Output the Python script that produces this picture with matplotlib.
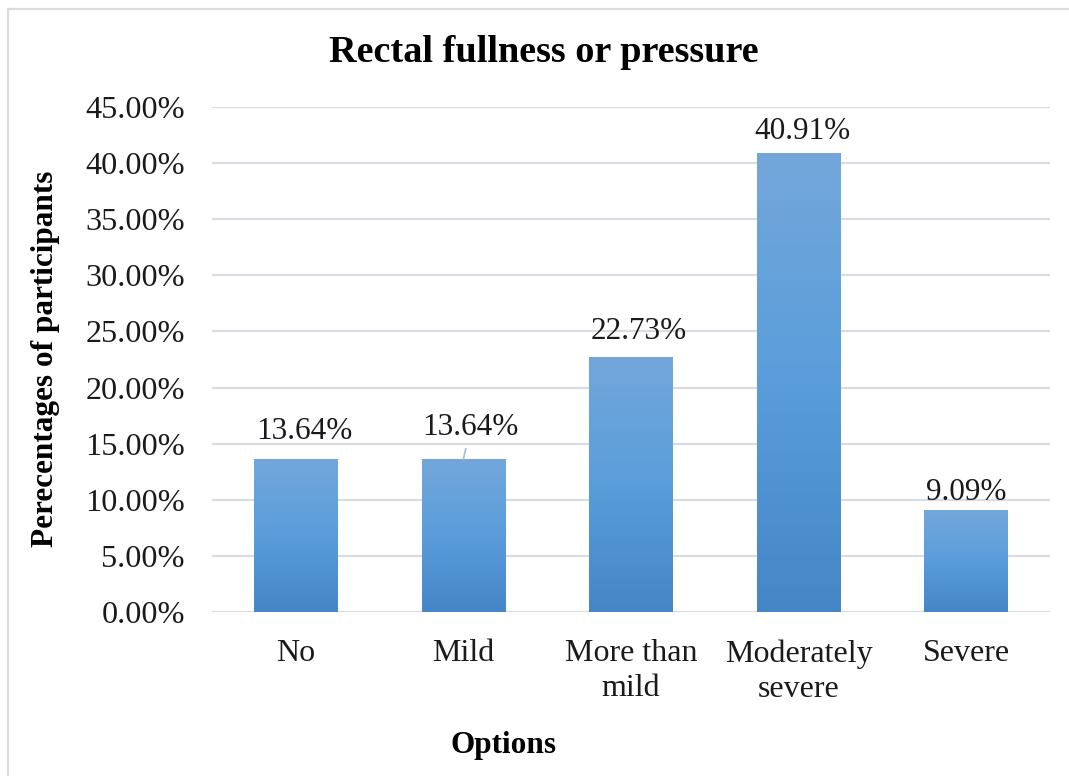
import numpy as np
import matplotlib
matplotlib.use("Agg")
import matplotlib.pyplot as plt
from matplotlib.colors import LinearSegmentedColormap
from matplotlib.lines import Line2D

categories = ["No", "Mild", "More than\nmild", "Moderately\nsevere", "Severe"]
values = [13.64, 13.64, 22.73, 40.91, 9.09]   # percent of participants
yticks = [0, 5, 10, 15, 20, 25, 30, 35, 40, 45]

plt.rcParams["font.family"] = ["Liberation Serif", "DejaVu Serif"]

W, H = 1069, 776
fig = plt.figure(figsize=(W / 100, H / 100), dpi=100)
ax = fig.add_axes([212 / W, 1 - 612 / H, (1050 - 212) / W, (612 - 107) / H])

# chart-area frame (top and left edges)
frame_kw = dict(color="#d9dde3", linewidth=1.6, transform=fig.transFigure, zorder=0)
fig.add_artist(Line2D([7.5 / W, 1.0], [1 - 8.5 / H, 1 - 8.5 / H], **frame_kw))
fig.add_artist(Line2D([7.5 / W, 7.5 / W], [0.0, 1 - 8.5 / H], **frame_kw))

x = np.arange(len(categories))

ax.yaxis.grid(True, color="#d9dde3", linewidth=1.6)
ax.set_axisbelow(True)
for s in ax.spines.values():
    s.set_visible(False)
ax.tick_params(length=0)

# vertical blue gradient for each bar
grad_cmap = LinearSegmentedColormap.from_list(
    "bar_grad", ["#4486c6", "#5a9ddb", "#73a7da"])
gradient = np.linspace(0, 1, 256).reshape(-1, 1)

bars = ax.bar(x, values, width=0.5, color="none", edgecolor="none", zorder=2)
for b in bars:
    x0, y0 = b.get_x(), b.get_y()
    w, h = b.get_width(), b.get_height()
    im = ax.imshow(gradient, cmap=grad_cmap, origin="lower", aspect="auto",
                   extent=(x0, x0 + w, y0, y0 + h), zorder=2,
                   interpolation="bilinear")
    im.set_clip_path(b)
ax.set_xlim(-0.5, len(categories) - 0.5)
ax.set_ylim(0, 45)

# value labels, offset (in points) from the top of each bar
label_dx = [6.5, 5.4, 5.8, 2.5, 0.0]
label_dy = [14.4, 17.3, 13.0, 10.0, 7.2]
for i, v in enumerate(values):
    kw = dict(xy=(i, v), xytext=(label_dx[i], label_dy[i]),
              textcoords="offset points", ha="center", va="baseline",
              fontsize=22.5, color="#1a1a1a")
    if i == 1:
        kw["arrowprops"] = dict(arrowstyle="-", color="#a9bfd6", lw=1.3,
                                shrinkA=3, shrinkB=0)
    ax.annotate(f"{v:.2f}%", **kw)

ax.set_yticks(yticks)
ax.set_yticklabels([f"{t:.2f}%" for t in yticks], fontsize=23.2, color="#1a1a1a")
ax.tick_params(axis="y", pad=19.5)
ax.set_xticks(x)
ax.set_xticklabels(categories, fontsize=23, color="#1a1a1a", linespacing=1.27,
                   va="top")
ax.tick_params(axis="x", pad=19.7)

fig.text(503 / W, 1 - 745 / H, "Options", ha="center", va="center",
         fontsize=22.5, fontweight="bold")
fig.text(46 / W, 1 - 359 / H, "Perecentages of participants", ha="center",
         va="center", rotation=90, fontsize=22.5, fontweight="bold")
fig.text(544 / W, 1 - 52 / H, "Rectal fullness or pressure", ha="center",
         va="center", fontsize=27.5, fontweight="bold")

fig.savefig("out.png", dpi=100)
